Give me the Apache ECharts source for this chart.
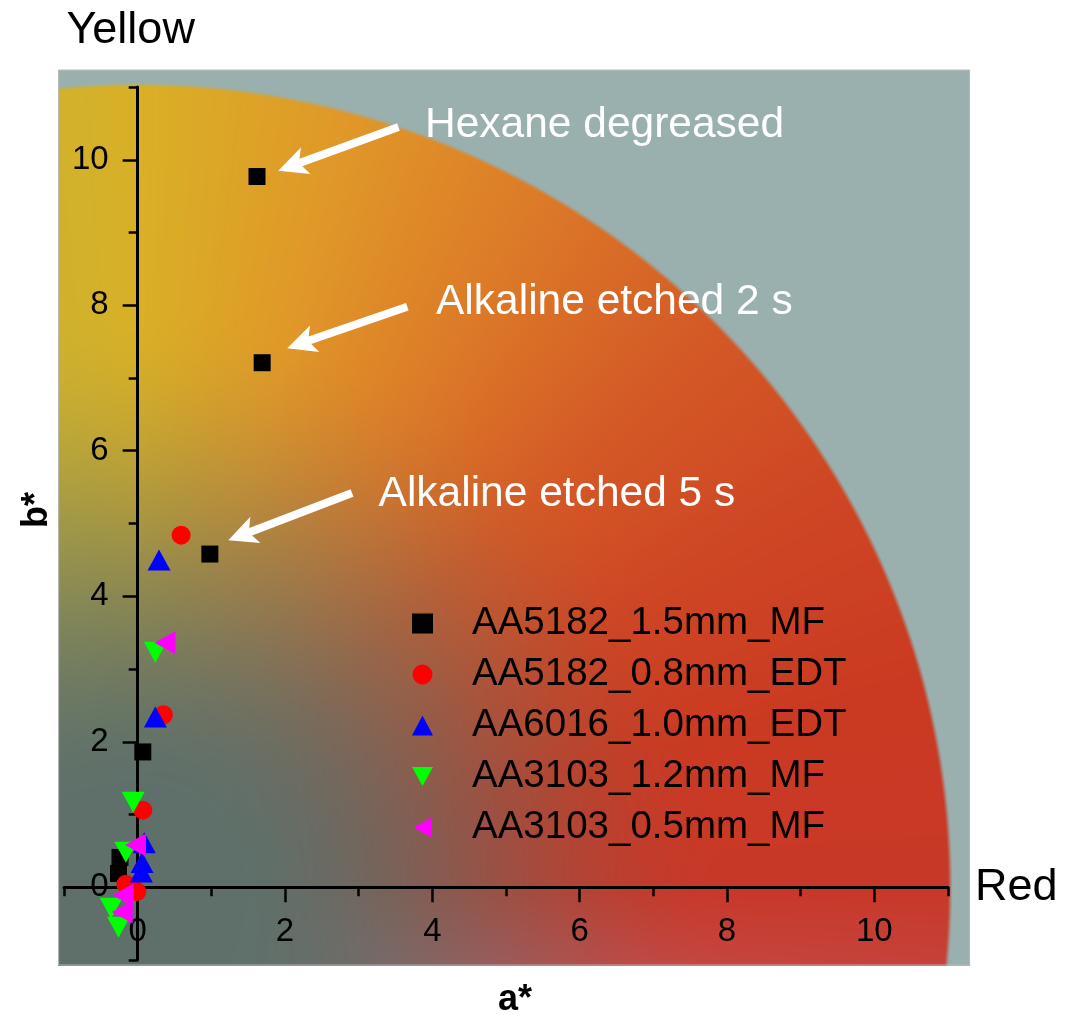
<!DOCTYPE html>
<html>
<head>
<meta charset="utf-8">
<script src="https://cdn.jsdelivr.net/npm/echarts@6/dist/echarts.min.js"></script>
<style>
html,body{margin:0;padding:0;background:#ffffff;}
#c{width:1065px;height:1018px;}
</style>
</head>
<body>
<div id="c"></div>
<script>
// ---------------- data ----------------
const seriesNames = ['AA5182_1.5mm_MF', 'AA5182_0.8mm_EDT', 'AA6016_1.0mm_EDT', 'AA3103_1.2mm_MF', 'AA3103_0.5mm_MF'];
const aa5182_15mm_MF = [[1.62, 9.77], [1.69, 7.21], [0.98, 4.58], [0.07, 1.86], [-0.24, 0.41], [-0.26, 0.19]];
const aa5182_08mm_EDT = [[0.59, 4.84], [0.35, 2.37], [0.07, 1.06], [-0.16, 0.04], [-0.01, -0.06]];
const aa6016_10mm_EDT = [[0.29, 4.50], [0.24, 2.34], [0.09, 0.61], [0.06, 0.34], [0.05, 0.21]];
const aa3103_12mm_MF = [[0.24, 3.23], [-0.06, 1.17], [-0.16, 0.48], [-0.36, -0.29], [-0.26, -0.55]];
const aa3103_05mm_MF = [[0.37, 3.36], [-0.03, 0.58], [-0.20, -0.11], [-0.21, -0.34]];
const allSeries = [aa5182_15mm_MF, aa5182_08mm_EDT, aa6016_10mm_EDT, aa3103_12mm_MF, aa3103_05mm_MF];

const majorTicks = [0, 2, 4, 6, 8, 10];
const axisMin = -1, axisMax = 11;

const noteTexts = ['Hexane degreased', 'Alkaline etched 2 s', 'Alkaline etched 5 s'];
const noteTextPos = [[3.90, 10.48], [4.05, 8.04], [3.27, 5.40]];
const arrowTails = [[3.54, 10.45], [3.66, 7.98], [2.91, 5.42]];
const arrowTips = [[1.91, 9.85], [2.03, 7.41], [1.23, 4.77]];

// ---------------- styles ----------------
const FONT = '"Liberation Sans", Arial, Helvetica, sans-serif';
const markerStyles = [
  { symbol: 'rect', size: 17, color: '#000000' },
  { symbol: 'circle', size: 19, color: '#ff0000' },
  { symbol: 'triangle', size: [23, 21], color: '#0000ff' },
  { symbol: 'path://M0,0L22,0L11,20Z', size: [23, 21], color: '#00ff00' },
  { symbol: 'path://M20,0L20,22L0,11Z', size: [21, 23], color: '#ff00ff' }
];

// grid geometry (pixels) and derived label offsets so tick labels sit beside the zero axis lines
const GRID = { left: 64, top: 87, width: 884, height: 873 };
const zeroX = GRID.left + GRID.width * (0 - axisMin) / (axisMax - axisMin);
const zeroY = GRID.top + GRID.height * (axisMax - 0) / (axisMax - axisMin);
const xLabelMargin = 28 - (GRID.top + GRID.height - zeroY);
const yLabelMargin = 29 - (zeroX - GRID.left);

// background (a*b* colour plane) settings
const BG_X = [-1.08, 11.30];
const BG_Y = [-1.07, 11.24];
const BG_R = 11.03;
const GRAY = [95, 112, 106];
const OUTSIDE = [154, 176, 174];
const HUE = [
  [-180, [95, 112, 106]],
  [-90, [95, 112, 106]],
  [-40, [140, 100, 105]],
  [-15, [192, 82, 88]],
  [0, [200, 56, 40]],
  [15, [202, 58, 34]],
  [30, [206, 70, 36]],
  [45, [212, 90, 38]],
  [60, [220, 122, 40]],
  [75, [224, 152, 40]],
  [90, [217, 176, 38]],
  [105, [198, 178, 52]],
  [130, [140, 160, 100]],
  [180, [95, 112, 106]]
];

function mix(c1, c2, t) {
  return [c1[0] + (c2[0] - c1[0]) * t, c1[1] + (c2[1] - c1[1]) * t, c1[2] + (c2[2] - c1[2]) * t];
}
function hueAt(th) {
  for (let i = 1; i < HUE.length; i++) {
    if (th <= HUE[i][0]) {
      const t = (th - HUE[i - 1][0]) / (HUE[i][0] - HUE[i - 1][0]);
      return mix(HUE[i - 1][1], HUE[i][1], t);
    }
  }
  return HUE[HUE.length - 1][1];
}
function smooth(e0, e1, x) {
  const t = Math.min(1, Math.max(0, (x - e0) / (e1 - e0)));
  return t * t * (3 - 2 * t);
}
function makeBg(w, h) {
  const cv = document.createElement('canvas');
  cv.width = w; cv.height = h;
  const ctx = cv.getContext('2d');
  const img = ctx.createImageData(w, h);
  const d = img.data;
  for (let j = 0; j < h; j++) {
    const b = BG_Y[1] - (j + 0.5) / h * (BG_Y[1] - BG_Y[0]);
    for (let i = 0; i < w; i++) {
      const a = BG_X[0] + (i + 0.5) / w * (BG_X[1] - BG_X[0]);
      const r = Math.hypot(a, b);
      const th = Math.atan2(b, a) * 180 / Math.PI;
      let c = mix(GRAY, hueAt(th), smooth(1.2, 8.0, r));
      const e = Math.min(1, Math.max(0, (r - (BG_R - 0.03)) / 0.06));
      c = mix(c, OUTSIDE, e);
      const k = (j * w + i) * 4;
      d[k] = c[0]; d[k + 1] = c[1]; d[k + 2] = c[2]; d[k + 3] = 255;
    }
  }
  ctx.putImageData(img, 0, 0);
  return cv;
}
let bgCache = null;
function renderBg(params, api) {
  const tl = api.coord([BG_X[0], BG_Y[1]]);
  const br = api.coord([BG_X[1], BG_Y[0]]);
  const w = Math.round(br[0] - tl[0]), h = Math.round(br[1] - tl[1]);
  if (!bgCache || bgCache.width !== w || bgCache.height !== h) bgCache = makeBg(w, h);
  return {
    type: 'group',
    children: [
      { type: 'image', style: { image: bgCache, x: tl[0], y: tl[1], width: w, height: h } },
      { type: 'rect', shape: { x: tl[0] + 0.5, y: tl[1] + 0.5, width: w - 1, height: h - 1 }, style: { fill: 'none', stroke: '#b9b9b9', lineWidth: 1 } }
    ]
  };
}

function renderNote(params, api) {
  const p0 = api.coord([api.value(0), api.value(1)]);
  const p1 = api.coord([api.value(2), api.value(3)]);
  const pt = api.coord([api.value(4), api.value(5)]);
  const dx = p1[0] - p0[0], dy = p1[1] - p0[1];
  const len = Math.hypot(dx, dy);
  const ux = dx / len, uy = dy / len, nx = -uy, ny = ux;
  const L = 29, W = 14, S = 4, N = 5;
  const bx = p1[0] - ux * L, by = p1[1] - uy * L;
  const qx = p1[0] - ux * (L - N), qy = p1[1] - uy * (L - N);
  const pts = [
    [p0[0] + nx * S, p0[1] + ny * S],
    [qx + nx * S, qy + ny * S],
    [bx + nx * W, by + ny * W],
    [p1[0], p1[1]],
    [bx - nx * W, by - ny * W],
    [qx - nx * S, qy - ny * S],
    [p0[0] - nx * S, p0[1] - ny * S]
  ];
  return {
    type: 'group',
    children: [
      { type: 'polygon', shape: { points: pts }, style: { fill: '#ffffff' } },
      { type: 'text', x: pt[0], y: pt[1], style: { text: noteTexts[params.dataIndex], fill: '#ffffff', fontSize: 42.5, fontFamily: FONT, align: 'left', verticalAlign: 'middle' } }
    ]
  };
}

const tickLine = { color: '#000', width: 2.5 };
const labelStyle = { fontSize: 33, color: '#000', fontFamily: FONT };
const evenFmt = v => (Math.round(v) % 2 === 0 ? String(Math.round(v)) : '');

const chart = echarts.init(document.getElementById('c'), null, { renderer: 'canvas' });
const option = {
  animation: false,
  backgroundColor: '#ffffff',
  grid: { left: GRID.left, top: GRID.top, width: GRID.width, height: GRID.height, containLabel: false, outerBoundsMode: 'none' },
  xAxis: [
    {
      type: 'value', min: axisMin, max: axisMax, interval: 1, position: 'bottom',
      axisLine: { show: true, onZero: true, onZeroAxisIndex: 0, lineStyle: { color: '#000', width: 3 } },
      axisTick: { show: true, inside: false, length: 9, lineStyle: tickLine },
      axisLabel: Object.assign({ formatter: evenFmt, margin: xLabelMargin }, labelStyle),
      splitLine: { show: false },
      name: 'Red', nameLocation: 'end', nameGap: 27, nameMoveOverlap: false,
      nameTextStyle: { fontSize: 45, color: '#000', fontFamily: FONT, padding: [16, 0, 0, 0] }
    },
    {
      type: 'value', min: axisMin, max: axisMax, position: 'bottom',
      axisLine: { show: false, onZero: true, onZeroAxisIndex: 0 },
      axisTick: { show: true, inside: false, length: 15, customValues: majorTicks, lineStyle: tickLine },
      axisLabel: { show: false },
      splitLine: { show: false }
    }
  ],
  yAxis: [
    {
      type: 'value', min: axisMin, max: axisMax, interval: 1, position: 'left',
      axisLine: { show: true, onZero: true, onZeroAxisIndex: 0, lineStyle: { color: '#000', width: 3 } },
      axisTick: { show: true, inside: false, length: 9, lineStyle: tickLine },
      axisLabel: Object.assign({ formatter: evenFmt, margin: yLabelMargin }, labelStyle),
      splitLine: { show: false },
      name: 'Yellow', nameLocation: 'end', nameGap: 34, nameMoveOverlap: false,
      nameTextStyle: { fontSize: 45, color: '#000', fontFamily: FONT, padding: [0, 14, 0, 0] }
    },
    {
      type: 'value', min: axisMin, max: axisMax, position: 'left',
      axisLine: { show: false, onZero: true, onZeroAxisIndex: 0 },
      axisTick: { show: true, inside: false, length: 15, customValues: majorTicks, lineStyle: tickLine },
      axisLabel: { show: false },
      splitLine: { show: false }
    }
  ],
  legend: {
    data: seriesNames,
    orient: 'vertical', left: 407, top: 599,
    itemWidth: 21, itemHeight: 20, itemGap: 12,
    textStyle: { fontSize: 38.5, lineHeight: 38, color: '#000', fontFamily: FONT, padding: [0, 0, 0, 34] },
    selectedMode: false
  },
  graphic: [
    { type: 'text', x: 515, y: 1000, style: { text: 'a*', fontSize: 36, fontWeight: 'bold', fontFamily: FONT, fill: '#000', align: 'center', verticalAlign: 'middle' } },
    { type: 'text', x: 37, y: 510, rotation: Math.PI / 2, style: { text: 'b*', fontSize: 36, fontWeight: 'bold', fontFamily: FONT, fill: '#000', align: 'center', verticalAlign: 'middle' } }
  ],
  series: [
    {
      type: 'custom', name: '_bg', xAxisIndex: 0, yAxisIndex: 0, z: -5, clip: false, silent: true,
      renderItem: renderBg, data: [[0, 0]], encode: { x: 0, y: 1 }
    }
  ].concat(allSeries.map((arr, i) => ({
    type: 'scatter', name: seriesNames[i], xAxisIndex: 0, yAxisIndex: 0, z: 3,
    symbol: markerStyles[i].symbol, symbolSize: markerStyles[i].size,
    itemStyle: { color: markerStyles[i].color, opacity: 1 },
    data: arr
  }))).concat([
    {
      type: 'custom', name: '_notes', xAxisIndex: 0, yAxisIndex: 0, z: 6, clip: false, silent: true,
      renderItem: renderNote,
      data: noteTexts.map((t, i) => [arrowTails[i][0], arrowTails[i][1], arrowTips[i][0], arrowTips[i][1], noteTextPos[i][0], noteTextPos[i][1]]),
      encode: { x: [0, 2, 4], y: [1, 3, 5] }
    }
  ])
};
chart.setOption(option);
</script>
</body>
</html>
